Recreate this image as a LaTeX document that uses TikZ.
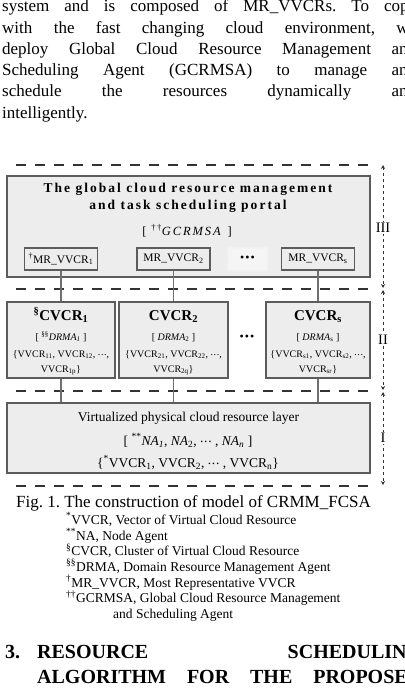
\documentclass[tikz,border=0pt]{standalone}
\usepackage{fontspec}
\setmainfont{Liberation Serif}
\usetikzlibrary{arrows.meta,positioning,calc}
\newcommand{\fsz}[1]{\fontsize{#1}{#1}\selectfont}
\newcommand{\mdots}{\raisebox{0.2em}{.\kern0.06em.\kern0.06em.}}
\definecolor{boxfill}{HTML}{EDEDED}
\definecolor{boxline}{HTML}{5C5C5C}
\definecolor{linkgray}{HTML}{707070}
\definecolor{sepgray}{HTML}{333333}
\frenchspacing

\begin{document}
\begin{tikzpicture}[x=1pt,y=-1pt,
  bodyline/.style={anchor=base west,inner sep=0pt,font=\fsz{17}},
  headline/.style={anchor=base west,inner sep=0pt,font=\fsz{20}\bfseries},
  legline/.style={anchor=base west,inner sep=0pt,font=\fsz{13.5}},
  layerbox/.style={draw=boxline,fill=boxfill,line width=1.3pt,inner sep=0pt},
  mrbox/.style={draw=boxline,fill=boxfill,line width=1.3pt,minimum width=73pt,minimum height=22pt,inner sep=0pt,font=\fsz{11.5}},
  intext/.style={anchor=base,inner sep=0pt,font=\fsz{10}},
  cvtitle/.style={anchor=base,inner sep=0pt,font=\fsz{15}\bfseries},
  restext/.style={anchor=base,inner sep=0pt,font=\fsz{13.5}},
  spaced/.style={anchor=base,inner sep=0pt,font=\fsz{13.5}\bfseries\addfontfeature{LetterSpace=15}},
  bigdots/.style={inner sep=0pt,font=\fsz{12}},
  link/.style={draw=linkgray,line width=1.3pt},
  sepline/.style={draw=sepgray,line width=2pt,dash pattern=on 10pt off 9pt},
  dimline/.style={draw=sepgray,line width=0.8pt,dash pattern=on 3pt off 3pt,{Stealth[length=4pt,width=4pt]}-{Stealth[length=4pt,width=4pt]}},
  dimlabel/.style={fill=white,inner sep=1pt,font=\fsz{14.5}}]

 \useasboundingbox (0,0) rectangle (404,690);
 \clip (0,0) rectangle (404,690);

 % ---- running text above ----
 \node[bodyline] (b1) at (2,12)    {\makebox[414pt][s]{system and is composed of MR\_VVCRs. To cope}};
 \node[bodyline] (b2) at (2,33.5)  {\makebox[414pt][s]{with the fast changing cloud environment, we}};
 \node[bodyline] (b3) at (2,55)    {\makebox[414pt][s]{deploy Global Cloud Resource Management and}};
 \node[bodyline] (b4) at (2,76)    {\makebox[414pt][s]{Scheduling Agent (GCRMSA) to manage and}};
 \node[bodyline] (b5) at (2,97)    {\makebox[414pt][s]{schedule the resources dynamically and}};
 \node[bodyline] (b6) at (2,118.5) {intelligently.};

 % ---- layer separators ----
 \foreach \y in {165,289,391,486} \draw[sepline] (16,\y) -- (377,\y);

 % ---- layer III ----
 \node[layerbox,minimum width=363pt,minimum height=101pt] (portal) at (188.5,226.5) {};
 \node[spaced] (t1) at (188,192) {The global cloud resource management};
 \node[spaced] (t2) at (188,209) {and task scheduling portal};
 \node[spaced,font=\fsz{12.5}\addfontfeature{LetterSpace=15}] (g) at (187,235) {[ \textsuperscript{††}\textit{GCRMSA} ]};
 \node[mrbox] (mr1) at (61,259) {\textsuperscript{†}MR\_VVCR\textsubscript{1}};
 \node[mrbox] (mr2) at (173.5,259) {MR\_VVCR\textsubscript{2}};
 \node[mrbox,minimum width=39pt,draw=boxfill!70!white,fill=boxfill!55!white] (mrd) at (247.5,259) {};
 \node[bigdots] (mrdots) at (mrd) {•\kern1pt•\kern1pt•};
 \node[mrbox] (mrs) at (318,259) {MR\_VVCR\textsubscript{s}};

 % ---- layer II ----
 \node[layerbox,minimum width=108pt,minimum height=76pt] (cv1) at (61,340) {};
 \node[layerbox,minimum width=109pt,minimum height=76pt] (cv2) at (173.5,340) {};
 \node[layerbox,minimum width=104pt,minimum height=76pt] (cvs) at (318,340) {};
 \node[bigdots] (cvd) at (247,338) {•\kern1pt•\kern1pt•};

 \node[cvtitle] (c1a) at (61,320) {\textsuperscript{§}CVCR\textsubscript{1}};
 \node[intext] (c1b) at (61,340) {[ \textsuperscript{§§}\textit{DRMA\textsubscript{1}} ]};
 \node[intext] (c1c) at (61,357) {\{VVCR\textsubscript{11}, VVCR\textsubscript{12}, \mdots,};
 \node[intext] (c1d) at (61,372) {VVCR\textsubscript{1p}\}};

 \node[cvtitle] (c2a) at (173.5,320) {CVCR\textsubscript{2}};
 \node[intext] (c2b) at (173.5,340) {[ \textit{DRMA}\textsubscript{2} ]};
 \node[intext] (c2c) at (173.5,357) {\{VVCR\textsubscript{21}, VVCR\textsubscript{22}, \mdots,};
 \node[intext] (c2d) at (173.5,372) {VVCR\textsubscript{2q}\}};

 \node[cvtitle] (csa) at (318,320) {CVCR\textsubscript{s}};
 \node[intext] (csb) at (318,340) {[ \textit{DRMA}\textsubscript{s} ]};
 \node[intext] (csc) at (318,357) {\{VVCR\textsubscript{s1}, VVCR\textsubscript{s2}, \mdots,};
 \node[intext] (csd) at (318,372) {VVCR\textsubscript{sr}\}};

 % ---- layer I ----
 \node[layerbox,minimum width=363pt,minimum height=70pt] (res) at (188.5,438) {};
 \node[restext] (r1) at (188.5,421) {Virtualized physical cloud resource layer};
 \node[restext] (r2) at (188,445) {[ \textsuperscript{**}\textit{NA\textsubscript{1}}, \textit{NA}\textsubscript{2}, \mdots{} , \textit{NA\textsubscript{n}} ]};
 \node[restext] (r3) at (188,467) {\{\textsuperscript{*}VVCR\textsubscript{1}, VVCR\textsubscript{2}, \mdots{} , VVCR\textsubscript{n}\}};

 % ---- links ----
 \foreach \a/\b in {mr1/cv1,mr2/cv2,mrs/cvs} {
   \draw[link] (\a.south) -- (\a.south |- \b.north);
   \draw[link] (\b.south) -- (\b.south |- res.north);
 }

 % ---- layer marks ----
 \coordinate (d3a) at (383,165);
 \coordinate (d3b) at (383,288);
 \coordinate (d2a) at (383,290);
 \coordinate (d2b) at (383,390);
 \coordinate (d1a) at (383,392);
 \coordinate (d1b) at (383,485);
 \draw[dimline] (d3a) -- (d3b);
 \draw[dimline] (d2a) -- (d2b);
 \draw[dimline] (d1a) -- (d1b);
 \node[dimlabel] (l3) at (383,228) {III};
 \node[dimlabel] (l2) at (383,340) {II};
 \node[dimlabel] (l1) at (383,438) {I};

 % ---- caption and notes ----
 \node[anchor=base,inner sep=0pt,font=\fsz{17}] (cap) at (193.5,507.5) {Fig. 1. The construction of model of CRMM\_FCSA};
 \node[legline] (n1) at (66,524) {\textsuperscript{*}VVCR, Vector of Virtual Cloud Resource};
 \node[legline] (n2) at (66,540) {\textsuperscript{**}NA, Node Agent};
 \node[legline] (n3) at (66,555.5) {\textsuperscript{§}CVCR, Cluster of Virtual Cloud Resource};
 \node[legline] (n4) at (66,571) {\textsuperscript{§§}DRMA, Domain Resource Management Agent};
 \node[legline] (n5) at (66,587) {\textsuperscript{†}MR\_VVCR, Most Representative VVCR};
 \node[legline] (n6) at (66,602.5) {\textsuperscript{††}GCRMSA, Global Cloud Resource Management};
 \node[legline] (n7) at (113,618.5) {and Scheduling Agent};

 % ---- next section heading ----
 \node[headline] (h0) at (5,658) {3.};
 \node[headline] (h1) at (37,658) {\makebox[385pt][s]{RESOURCE SCHEDULING}};
 \node[headline] (h2) at (37,683) {\makebox[385pt][s]{ALGORITHM FOR THE PROPOSED}};
\end{tikzpicture}
\end{document}
